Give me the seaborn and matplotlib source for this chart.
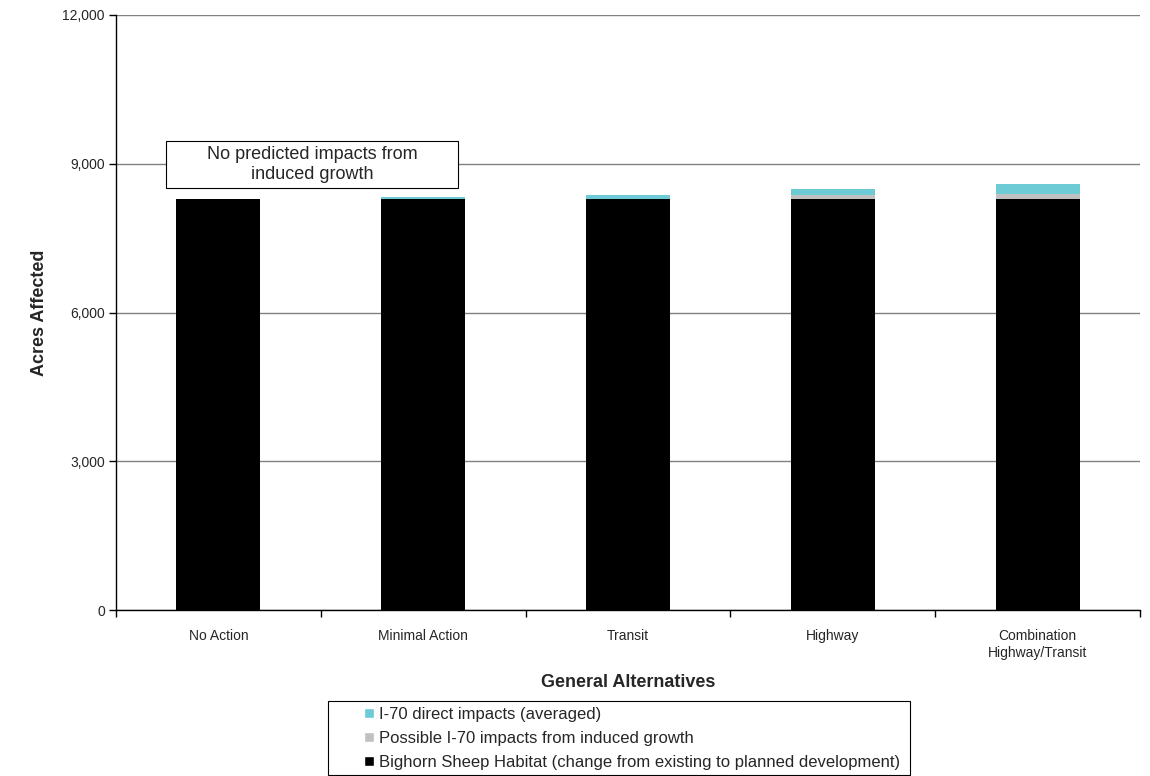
import matplotlib
matplotlib.use("Agg")
import matplotlib.pyplot as plt
import seaborn as sns
import pandas as pd
import numpy as np
from matplotlib.patches import Patch, Rectangle

categories = ["No Action", "Minimal Action", "Transit", "Highway",
              "Combination\nHighway/Transit"]
bighorn_habitat = [8280, 8280, 8280, 8280, 8280]
induced_growth = [0, 0, 0, 80, 120]
direct_impacts = [0, 50, 80, 140, 200]
y_ticks = [0, 3000, 6000, 9000, 12000]

colors = {"direct": "#6DCBD6", "induced": "#C0C0C0", "habitat": "#000000"}

df = pd.DataFrame({
    "alt": categories,
    "habitat": bighorn_habitat,
    "induced": induced_growth,
    "direct": direct_impacts,
})
df["lvl2"] = df["habitat"] + df["induced"]
df["lvl3"] = df["lvl2"] + df["direct"]

sns.set_theme(style="white")
plt.rcParams["font.family"] = ["Liberation Sans", "DejaVu Sans"]

W, H = 1150, 776
fig = plt.figure(figsize=(W / 100, H / 100), dpi=100)
ax = fig.add_axes([116 / W, 1 - 610 / H, 1024 / W, 595 / H])

bw = 0.41
for col, key in [("lvl3", "direct"), ("lvl2", "induced"), ("habitat", "habitat")]:
    sns.barplot(data=df, x="alt", y=col, color=colors[key], width=bw,
                saturation=1, linewidth=0, ax=ax, zorder=3)

ax.set_xlim(-0.5, len(categories) - 0.5)
ax.set_ylim(0, 12000)
ax.set_yticks(y_ticks)
ax.set_yticklabels([f"{v:,}" for v in y_ticks], fontsize=10)
ax.yaxis.grid(True, color="#808080", linewidth=1, zorder=0)
ax.set_axisbelow(True)
ax.tick_params(axis="y", direction="out", length=5, width=1, color="black",
               left=True, pad=3)

ax.set_xticks(range(len(categories)))
ax.set_xticklabels(categories, fontsize=10)
ax.set_xticks(np.arange(-0.5, len(categories), 1.0), minor=True)
ax.tick_params(axis="x", which="major", length=0, pad=14)
ax.tick_params(axis="x", which="minor", direction="out", length=5, width=1,
               color="black", bottom=True)

for side in ["top", "right"]:
    ax.spines[side].set_visible(False)
for side in ["left", "bottom"]:
    ax.spines[side].set_color("black")
    ax.spines[side].set_linewidth(1)

ax.set_xlabel("General Alternatives", fontsize=13, fontweight="bold",
              labelpad=10)
ax.set_ylabel("Acres Affected", fontsize=13, fontweight="bold", labelpad=10)

# note box about induced growth
ax.add_patch(Rectangle((-0.256, 8510), 1.426, 950, facecolor="white",
                       edgecolor="black", linewidth=0.8, zorder=5))
ax.text(0.457, 8985, "No predicted impacts from\ninduced growth",
        ha="center", va="center", fontsize=13, zorder=6, linespacing=1.25)

# legend frame below the axis title
fig.patches.append(Rectangle((328 / W, 1 - 775 / H), (910 - 328) / W,
                             (775 - 701) / H, transform=fig.transFigure,
                             facecolor="white", edgecolor="black",
                             linewidth=0.8, zorder=1))

handles = [
    Patch(facecolor=colors["direct"], label="I-70 direct impacts (averaged)"),
    Patch(facecolor=colors["induced"],
          label="Possible I-70 impacts from induced growth"),
    Patch(facecolor=colors["habitat"],
          label="Bighorn Sheep Habitat (change from existing to planned development)"),
]
leg = fig.legend(handles=handles, loc="upper left",
                 bbox_to_anchor=(364 / W, 1 - 707 / H), fontsize=12,
                 frameon=False, handlelength=0.6, handleheight=0.6,
                 handletextpad=0.3, labelspacing=0.53, borderpad=0,
                 borderaxespad=0)
leg.set_zorder(2)

fig.savefig("out.png", dpi=100, facecolor="white")
